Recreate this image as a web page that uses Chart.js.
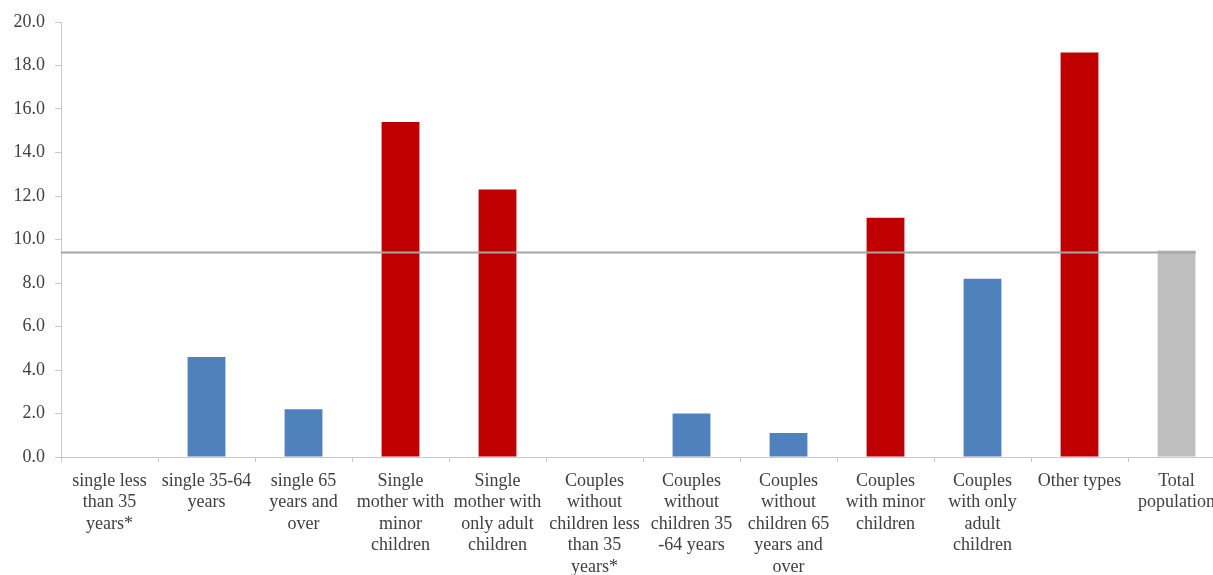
<!DOCTYPE html>
<html>
<head>
<meta charset="utf-8">
<script src="https://cdn.jsdelivr.net/npm/chart.js@4.4.1/dist/chart.umd.min.js"></script>
<style>
    html, body { margin: 0; padding: 0; background: #fff; overflow: hidden; }
    #wrap { position: relative; width: 1225px; height: 575px; }
</style>
</head>
<body>
<div id="wrap"><canvas id="householdChart"></canvas></div>
<script>
// Categories, wrapped the way the original axis wraps them
const categories = [
    ['single less', 'than 35', 'years*'],
    ['single 35-64', 'years'],
    ['single 65', 'years and', 'over'],
    ['Single', 'mother with', 'minor', 'children'],
    ['Single', 'mother with', 'only adult', 'children'],
    ['Couples', 'without', 'children less', 'than 35', 'years*'],
    ['Couples', 'without', 'children 35', '-64 years'],
    ['Couples', 'without', 'children 65', 'years and', 'over'],
    ['Couples', 'with minor', 'children'],
    ['Couples', 'with only', 'adult', 'children'],
    ['Other types'],
    ['Total', 'population']
];

const values = [0, 4.6, 2.2, 15.4, 12.3, 0, 2.0, 1.1, 11.0, 8.2, 18.6, 9.5];

// reference line (total population level), from the axis to the last bar
const refLineX = [-0.5, 11.2];
const refLineY = [9.4, 9.4];

const yTicks = [0, 2, 4, 6, 8, 10, 12, 14, 16, 18, 20];

const BLUE = '#4f81bd';
const RED = '#c00000';
const GREY = '#bfbfbf';
const barColors = [BLUE, BLUE, BLUE, RED, RED, BLUE, BLUE, BLUE, RED, BLUE, RED, GREY];

const textColor = '#404040';
const axisColor = '#c8c8c8';
const serif = "'Liberation Serif', 'Times New Roman', serif";

const ctx = document.getElementById('householdChart').getContext('2d');

new Chart(ctx, {
    type: 'bar',
    data: {
        labels: categories,
        datasets: [{
            type: 'line',
            data: refLineX.map((x, i) => ({ x: x, y: refLineY[i] })),
            xAxisID: 'xl',
            borderColor: '#a6a6a6',
            borderWidth: 2,
            pointRadius: 0,
            fill: false,
            order: 0
        }, {
            data: values,
            xAxisID: 'x',
            backgroundColor: barColors,
            borderWidth: 0,
            grouped: false,
            barPercentage: 0.39,
            categoryPercentage: 1,
            order: 1
        }]
    },
    options: {
        responsive: true,
        maintainAspectRatio: false,
        animation: false,
        layout: { padding: { top: 22, right: 0, left: 0, bottom: 0 } },
        plugins: {
            legend: { display: false },
            tooltip: { enabled: false }
        },
        scales: {
            x: {
                offset: true,
                grid: {
                    offset: true,
                    drawOnChartArea: false,
                    drawTicks: true,
                    tickLength: 5,
                    color: axisColor
                },
                border: { color: axisColor, width: 1 },
                ticks: {
                    color: textColor,
                    font: { family: serif, size: 18, lineHeight: 1.2 },
                    padding: 8,
                    maxRotation: 0,
                    minRotation: 0,
                    autoSkip: false
                },
                afterFit: (scale) => { scale.height = 118; }
            },
            xl: {
                type: 'linear',
                axis: 'x',
                display: false,
                offset: false,
                grid: { offset: false },
                min: -0.5,
                max: 11.5
            },
            y: {
                min: 0,
                max: 20,
                afterBuildTicks: (scale) => {
                    scale.ticks = yTicks.map(v => ({ value: v }));
                },
                grid: {
                    drawOnChartArea: false,
                    drawTicks: true,
                    tickLength: 6,
                    color: axisColor
                },
                border: { color: axisColor, width: 1 },
                ticks: {
                    color: textColor,
                    font: { family: serif, size: 18 },
                    padding: 10,
                    callback: (v) => Number(v).toFixed(1)
                },
                afterFit: (scale) => { scale.width = 61; }
            }
        }
    }
});
</script>
</body>
</html>
